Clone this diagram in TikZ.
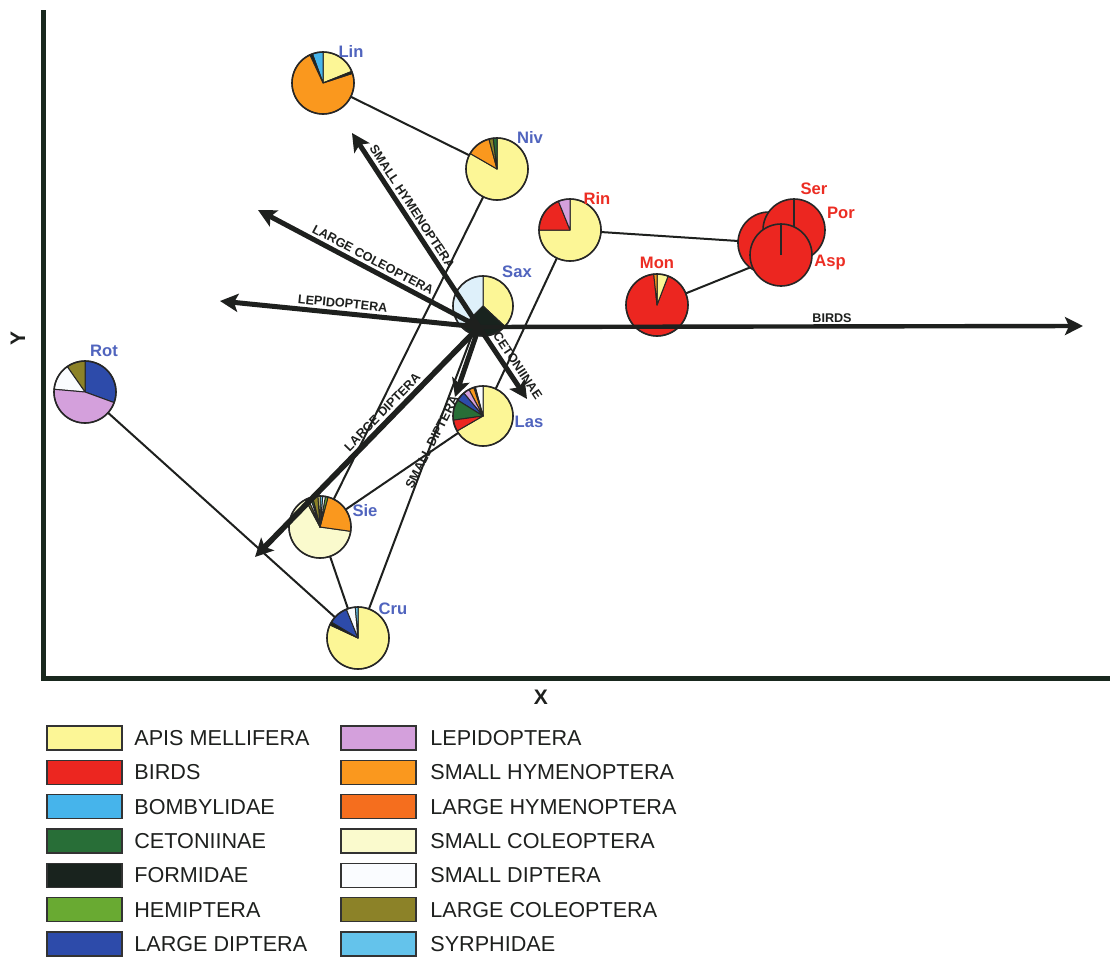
\documentclass[tikz,border=0pt]{standalone}
\usepackage{fontspec}
\setmainfont{Liberation Sans}
\usetikzlibrary{arrows.meta}
\definecolor{apis}{RGB}{252,246,150}
\definecolor{birds}{RGB}{236,38,32}
\definecolor{bomby}{RGB}{70,180,235}
\definecolor{ceto}{RGB}{40,110,55}
\definecolor{formi}{RGB}{25,35,30}
\definecolor{hemi}{RGB}{105,170,50}
\definecolor{ldip}{RGB}{45,75,170}
\definecolor{lepi}{RGB}{212,160,220}
\definecolor{shym}{RGB}{250,152,30}
\definecolor{lhym}{RGB}{245,110,30}
\definecolor{scol}{RGB}{250,250,205}
\definecolor{sdip}{RGB}{250,252,255}
\definecolor{lcol}{RGB}{140,130,40}
\definecolor{syrph}{RGB}{100,195,235}
\definecolor{saxb}{RGB}{222,240,250}
\definecolor{lblue}{RGB}{80,100,190}
\definecolor{lred}{RGB}{236,45,35}
\definecolor{axiscol}{RGB}{25,40,30}
\definecolor{inkcol}{RGB}{30,32,30}
\newcommand{\pslice}[5]{\filldraw[fill=#5,draw=black!85,line width=0.5pt,line join=round] (#1.center) -- ++(#3:#2) arc[start angle=#3,end angle=#4,radius=#2] -- cycle;}
\newcommand{\prim}[2]{\draw[line width=0.8pt,draw=black!85] (#1.center) circle[radius=#2];}
\tikzset{
  pienode/.style={circle,inner sep=0pt,outer sep=0pt,minimum size=#1},
  conn/.style={line width=1pt,draw=inkcol},
  bigarrow/.style={line width=2.5pt,draw=inkcol,-{Stealth[length=9pt,width=9pt,inset=2pt]}},
  arrlabel/.style={font=\bfseries\fontsize{6.3}{7}\selectfont,text=inkcol,inner sep=1pt},
  bluelab/.style={font=\bfseries\fontsize{8.3}{9}\selectfont,text=lblue,inner sep=0pt},
  redlab/.style={font=\bfseries\fontsize{8.3}{9}\selectfont,text=lred,inner sep=0pt},
  axlab/.style={font=\bfseries\fontsize{10.5}{12}\selectfont,text=inkcol,inner sep=0pt},
  legbox/.style={draw=black!80,line width=0.7pt,minimum width=37.5pt,minimum height=12pt,inner sep=0pt},
  legtext/.style={font=\fontsize{10.8}{12}\selectfont,text=inkcol,inner sep=0pt,anchor=west}
}
\begin{document}
\begin{tikzpicture}[x=0.5pt,y=0.5pt]
\useasboundingbox[fill=white] (0,0) rectangle (1110,-959);
% axes
\coordinate (ytop) at (43,-10);
\coordinate (corner) at (43,-678);
\coordinate (xend) at (1110,-678);
\draw[line width=2.5pt,draw=axiscol,line join=miter] (ytop) -- (corner) -- (xend);
\node[axlab,rotate=90] (ylab) at (18,-338) {Y};
\node[axlab] (xlab) at (541,-697) {X};
% pie positions
\node[pienode=31pt] (lin) at (323,-83) {};
\node[pienode=31pt] (niv) at (497,-169) {};
\node[pienode=31pt] (rin) at (570,-230) {};
\node[pienode=31pt] (mon) at (657,-305) {};
\node[pienode=31pt] (por) at (769,-243) {};
\node[pienode=31pt] (ser) at (794,-230) {};
\node[pienode=31pt] (asp) at (781,-255) {};
\node[pienode=30pt] (sax) at (483,-306) {};
\node[pienode=30pt] (las) at (483,-416) {};
\node[pienode=31pt] (rot) at (85,-392) {};
\node[pienode=31pt] (sie) at (320,-527) {};
\node[pienode=31pt] (cru) at (358,-638) {};
% connectors
\draw[conn] (lin) -- (niv);
\draw[conn] (niv) -- (sie);
\draw[conn] (rin) -- (las);
\draw[conn] (rin) -- (por);
\draw[conn] (mon) -- (asp);
\draw[conn] (sax) -- (cru);
\draw[conn] (las) -- (sie);
\draw[conn] (sie) -- (cru);
\draw[conn] (rot) -- (cru);
% pies
% Lin
\pslice{lin}{31}{22}{90}{apis}
\pslice{lin}{31}{90}{110}{bomby}
\pslice{lin}{31}{110}{115}{formi}
\pslice{lin}{31}{115}{378}{shym}
\pslice{lin}{31}{378}{382}{formi}
\prim{lin}{31}
% Niv
\pslice{niv}{31}{150}{450}{apis}
\pslice{niv}{31}{105}{150}{shym}
\pslice{niv}{31}{97}{105}{lcol}
\pslice{niv}{31}{90}{97}{ceto}
\prim{niv}{31}
% Rin
\pslice{rin}{31}{180}{450}{apis}
\pslice{rin}{31}{112}{180}{birds}
\pslice{rin}{31}{90}{112}{lepi}
\prim{rin}{31}
% Mon
\pslice{mon}{31}{96}{429}{birds}
\pslice{mon}{31}{69}{90}{apis}
\pslice{mon}{31}{90}{96}{shym}
\prim{mon}{31}
% bird cluster
\fill[birds] (por.center) circle[radius=31];
\prim{por}{31}
\fill[birds] (ser.center) circle[radius=31];
\prim{ser}{31}
\draw[line width=0.6pt,draw=black!85] (ser.center) -- (ser.north);
\fill[birds] (asp.center) circle[radius=31];
\prim{asp}{31}
\draw[line width=0.6pt,draw=black!85] (asp.center) -- (asp.north);
% Sax
\pslice{sax}{30}{-43}{90}{apis}
\pslice{sax}{30}{90}{225}{saxb}
\pslice{sax}{30}{225}{317}{formi}
\prim{sax}{30}
% Las
\pslice{las}{30}{210}{450}{apis}
\pslice{las}{30}{90}{105}{sdip}
\pslice{las}{30}{105}{108}{formi}
\pslice{las}{30}{108}{118}{shym}
\pslice{las}{30}{118}{130}{lepi}
\pslice{las}{30}{130}{148}{ldip}
\pslice{las}{30}{148}{188}{ceto}
\pslice{las}{30}{188}{210}{birds}
\prim{las}{30}
% Rot
\pslice{rot}{31}{-20}{90}{ldip}
\pslice{rot}{31}{90}{125}{lcol}
\pslice{rot}{31}{125}{175}{sdip}
\pslice{rot}{31}{175}{340}{lepi}
\prim{rot}{31}
% Sie
\pslice{sie}{31}{118}{352}{scol}
\pslice{sie}{31}{-8}{75}{shym}
\pslice{sie}{31}{75}{80}{hemi}
\pslice{sie}{31}{80}{85}{sdip}
\pslice{sie}{31}{85}{90}{syrph}
\pslice{sie}{31}{90}{94}{apis}
\pslice{sie}{31}{94}{104}{lcol}
\pslice{sie}{31}{104}{108}{ceto}
\pslice{sie}{31}{108}{113}{sdip}
\pslice{sie}{31}{113}{118}{lcol}
\prim{sie}{31}
% Cru
\pslice{cru}{31}{155}{450}{apis}
\pslice{cru}{31}{149}{155}{formi}
\pslice{cru}{31}{112}{149}{ldip}
\pslice{cru}{31}{95}{112}{sdip}
\pslice{cru}{31}{90}{95}{syrph}
\prim{cru}{31}
% biplot arrows
\coordinate (O) at (479,-327);
\coordinate (birdsend) at (1083,-326);
\coordinate (lepend) at (220,-301);
\coordinate (lcolend) at (258,-210);
\coordinate (shymend) at (352,-133);
\coordinate (cetoend) at (527,-399);
\coordinate (sdipend) at (455,-397);
\coordinate (ldipend) at (255,-557);
\draw[bigarrow,line width=2.2pt] (O) -- (birdsend);
\draw[bigarrow] (O) -- (lepend);
\draw[bigarrow] (O) -- (lcolend);
\draw[bigarrow] (O) -- (shymend);
\draw[bigarrow] (O) -- (cetoend);
\draw[bigarrow] (O) -- (sdipend);
\draw[bigarrow,line width=2.8pt] (O) -- (ldipend);
% arrow labels
\node[arrlabel] (birdslab) at (832,-318) {BIRDS};
\path (lepend) -- (O) node[arrlabel,pos=0.47,sloped,above=1.5pt] (leplab) {LEPIDOPTERA};
\path (lcolend) -- (O) node[arrlabel,pos=0.5,sloped,above=1.5pt] (lcollab) {LARGE COLEOPTERA};
\path (shymend) -- (O) node[arrlabel,pos=0.41,sloped,above=1.5pt] (shymlab) {SMALL HYMENOPTERA};
\path (O) -- (cetoend) node[arrlabel,pos=0.62,sloped,above=2pt] (cetolab) {CETONIINAE};
\path (ldipend) -- (O) node[arrlabel,pos=0.6,sloped,above=1.5pt] (ldiplab) {LARGE DIPTERA};
\node[arrlabel,rotate=63] (sdiplab) at (432,-442) {SMALL DIPTERA};
% pie labels
\node[bluelab] (linlab) at (351,-51) {Lin};
\node[bluelab] (nivlab) at (530,-137) {Niv};
\node[redlab] (rinlab) at (597,-198) {Rin};
\node[redlab] (monlab) at (657,-263) {Mon};
\node[redlab] (serlab) at (814,-189) {Ser};
\node[redlab] (porlab) at (841,-213) {Por};
\node[redlab] (asplab) at (830,-263) {Asp};
\node[bluelab] (saxlab) at (517,-272) {Sax};
\node[bluelab] (laslab) at (529,-422) {Las};
\node[bluelab] (rotlab) at (104,-351) {Rot};
\node[bluelab] (sielab) at (365,-511) {Sie};
\node[bluelab] (crulab) at (393,-609) {Cru};
% legend
\foreach \c/\t/\r [count=\i] in {apis/APIS MELLIFERA/0, birds/BIRDS/1, bomby/BOMBYLIDAE/2, ceto/CETONIINAE/3, formi/FORMIDAE/4, hemi/HEMIPTERA/5, ldip/LARGE DIPTERA/6}{
  \node[legbox,fill=\c] (lga\i) at (84.5,-738-34.33*\r) {};
  \node[legtext] (lgat\i) at (134,-738-34.33*\r) {\t};
}
\foreach \c/\t/\r [count=\i] in {lepi/LEPIDOPTERA/0, shym/SMALL HYMENOPTERA/1, lhym/LARGE HYMENOPTERA/2, scol/SMALL COLEOPTERA/3, sdip/SMALL DIPTERA/4, lcol/LARGE COLEOPTERA/5, syrph/SYRPHIDAE/6}{
  \node[legbox,fill=\c] (lgb\i) at (378.5,-738-34.33*\r) {};
  \node[legtext] (lgbt\i) at (430,-738-34.33*\r) {\t};
}
\end{tikzpicture}
\end{document}
